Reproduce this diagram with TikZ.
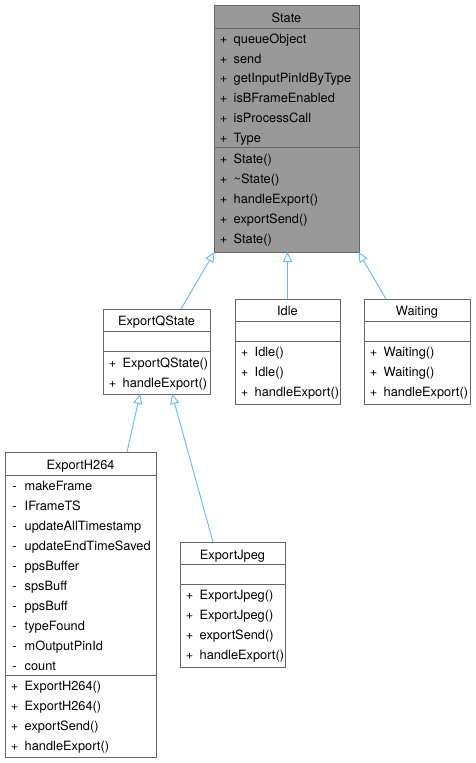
\documentclass[tikz,border=0pt]{standalone}
\usepackage{fontspec}
\setmainfont{TeX Gyre Heros}
\usetikzlibrary{arrows.meta,calc}
\definecolor{bordergray}{HTML}{666666}
\definecolor{hlfill}{HTML}{999999}
\definecolor{inhblue}{HTML}{63B8FF}
\newcommand\mem[5]{%
  \node[vis] (#1s) at ({#2+9.5},{#3+4.6}) {#4};
  \node[txt] (#1) at ({#2+19.5},{#3+4.6}) {#5};}
\newcommand\ttl[4]{%
  \node[txt,anchor=base] (#1) at ({#2},{#3+4.6}) {#4};}
\begin{document}
\begin{tikzpicture}[x=1pt,y=-1pt,
  font=\fontsize{12.8}{15}\selectfont,
  box/.style={draw=bordergray,line width=1pt,inner sep=0pt,outer sep=0pt,anchor=north west,fill=white},
  sepline/.style={draw=bordergray,line width=1pt},
  vis/.style={inner sep=0pt,anchor=base},
  txt/.style={inner sep=0pt,anchor=base west},
  inh/.style={draw=inhblue,line width=0.9pt,-{Triangle[open,length=10pt,width=9pt]}}]
\useasboundingbox (0,0) rectangle (475,763);
% ---------- State
\node[box,fill=hlfill,minimum width=145pt,minimum height=247pt] (state) at (214,5) {};
\draw[sepline] (214,28) -- (359,28);
\draw[sepline] (214,147) -- (359,147);
\ttl{stateT}{286.5}{17.5}{State}
\mem{sa1}{214}{38.5}{+}{queueObject}
\mem{sa2}{214}{58.4}{+}{send}
\mem{sa3}{214}{78.3}{+}{getInputPinIdByType}
\mem{sa4}{214}{98.2}{+}{isBFrameEnabled}
\mem{sa5}{214}{118.1}{+}{isProcessCall}
\mem{sa6}{214}{138}{+}{Type}
\mem{sm1}{214}{158.5}{+}{State()}
\mem{sm2}{214}{178.5}{+}{\textasciitilde State()}
\mem{sm3}{214}{198.5}{+}{handleExport()}
\mem{sm4}{214}{218.5}{+}{exportSend()}
\mem{sm5}{214}{238.5}{+}{State()}
% ---------- ExportQState
\node[box,minimum width=107pt,minimum height=85pt] (eqs) at (103,309) {};
\draw[sepline] (103,331) -- (210,331);
\draw[sepline] (103,351) -- (210,351);
\ttl{eqsT}{156.5}{321}{ExportQState}
\mem{qm1}{103}{362.7}{+}{ExportQState()}
\mem{qm2}{103}{382.7}{+}{handleExport()}
% ---------- Idle
\node[box,minimum width=105pt,minimum height=105pt] (idle) at (235,299) {};
\draw[sepline] (235,321) -- (340,321);
\draw[sepline] (235,341) -- (340,341);
\ttl{idleT}{287.5}{311}{Idle}
\mem{im1}{235}{352}{+}{Idle()}
\mem{im2}{235}{372}{+}{Idle()}
\mem{im3}{235}{392}{+}{handleExport()}
% ---------- Waiting
\node[box,minimum width=106pt,minimum height=105pt] (wait) at (364,299) {};
\draw[sepline] (364,321) -- (470,321);
\draw[sepline] (364,341) -- (470,341);
\ttl{waitT}{417}{311}{Waiting}
\mem{wm1}{364}{352}{+}{Waiting()}
\mem{wm2}{364}{372}{+}{Waiting()}
\mem{wm3}{364}{392}{+}{handleExport()}
% ---------- ExportH264
\node[box,minimum width=151pt,minimum height=305pt] (h264) at (5,452) {};
\draw[sepline] (5,475) -- (156,475);
\draw[sepline] (5,675) -- (156,675);
\ttl{h264T}{80.5}{465}{ExportH264}
\mem{ha1}{5}{486}{-}{makeFrame}
\mem{ha2}{5}{506}{-}{IFrameTS}
\mem{ha3}{5}{526}{-}{updateAllTimestamp}
\mem{ha4}{5}{546}{-}{updateEndTimeSaved}
\mem{ha5}{5}{566}{-}{ppsBuffer}
\mem{ha6}{5}{586}{-}{spsBuff}
\mem{ha7}{5}{606}{-}{ppsBuff}
\mem{ha8}{5}{626}{-}{typeFound}
\mem{ha9}{5}{646}{-}{mOutputPinId}
\mem{ha10}{5}{666}{-}{count}
\mem{hm1}{5}{686}{+}{ExportH264()}
\mem{hm2}{5}{706}{+}{ExportH264()}
\mem{hm3}{5}{726}{+}{exportSend()}
\mem{hm4}{5}{746}{+}{handleExport()}
% ---------- ExportJpeg
\node[box,minimum width=105pt,minimum height=125pt] (jpeg) at (180,542) {};
\draw[sepline] (180,564) -- (285,564);
\draw[sepline] (180,584) -- (285,584);
\ttl{jpegT}{232.5}{555}{ExportJpeg}
\mem{jm1}{180}{595}{+}{ExportJpeg()}
\mem{jm2}{180}{615}{+}{ExportJpeg()}
\mem{jm3}{180}{635}{+}{exportSend()}
\mem{jm4}{180}{655}{+}{handleExport()}
% ---------- inheritance
\draw[inh] ([xshift=78pt]eqs.north west) -- ([xshift=0.5pt]state.south west);
\draw[inh] (idle.north) -- (idle.north |- state.south);
\draw[inh] ([xshift=22pt]wait.north west) -- ([xshift=-0.5pt]state.south east);
\draw[inh] ([xshift=122pt]h264.north west) -- ([xshift=37pt]eqs.south west);
\draw[inh] ([xshift=33pt]jpeg.north west) -- ([xshift=69pt]eqs.south west);
\end{tikzpicture}
\end{document}
